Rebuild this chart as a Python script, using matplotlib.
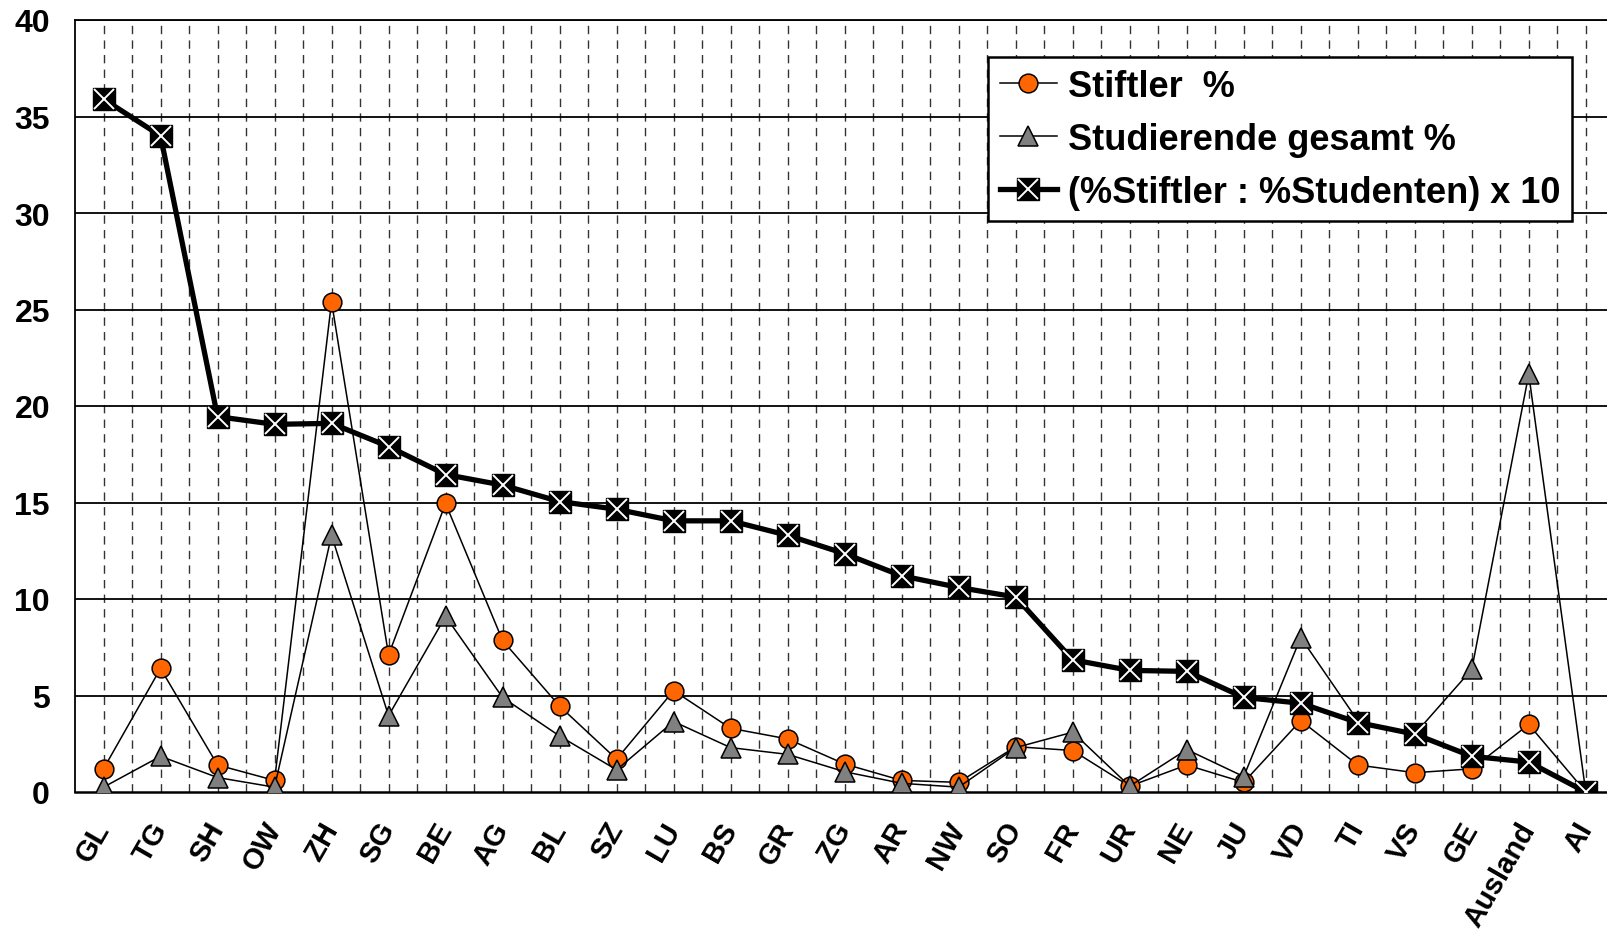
import matplotlib
matplotlib.use("Agg")
import matplotlib.pyplot as plt

plt.rcParams['font.family'] = ['Liberation Sans', 'DejaVu Sans']
plt.rcParams['lines.scale_dashes'] = False

kantone = ["GL", "TG", "SH", "OW", "ZH", "SG", "BE", "AG", "BL", "SZ", "LU", "BS", "GR", "ZG",
           "AR", "NW", "SO", "FR", "UR", "NE", "JU", "VD", "TI", "VS", "GE", "Ausland", "AI"]

stiftler = [1.2, 6.4, 1.4, 0.6, 25.4, 7.1, 14.95, 7.85, 4.45, 1.7, 5.25, 3.3, 2.75, 1.45,
            0.6, 0.5, 2.35, 2.15, 0.3, 1.4, 0.5, 3.7, 1.4, 1.0, 1.2, 3.5, 0.0]
studierende = [0.25, 1.85, 0.75, 0.25, 13.3, 3.95, 9.1, 4.9, 2.9, 1.15, 3.65, 2.3, 1.95, 1.05,
               0.45, 0.25, 2.3, 3.1, 0.3, 2.2, 0.8, 8.0, 3.7, 3.0, 6.35, 21.65, 0.0]
verhaeltnis = [35.9, 34.0, 19.45, 19.05, 19.1, 17.9, 16.45, 15.9, 15.05, 14.65, 14.05, 14.05,
               13.3, 12.35, 11.2, 10.6, 10.1, 6.85, 6.3, 6.25, 4.9, 4.6, 3.6, 3.0, 1.85, 1.55, 0.0]

x = list(range(len(kantone)))

fig = plt.figure(figsize=(16.08, 9.37), dpi=100)
ax = fig.add_axes([75 / 1608, 1 - 793 / 937, 1533 / 1608, 772 / 937])

# gitter
for i in range(1, 2 * len(kantone) + 1):
    ax.axvline(-0.5 + i * 0.5, color="#333333", lw=1.0, linestyle=(0, (6, 4.5)), zorder=1)
for yv in range(5, 45, 5):
    ax.axhline(yv, color="black", lw=1.3, zorder=1.5)

h_st, = ax.plot(x, stiftler, color="black", lw=1.1, marker="o", markersize=13.5,
                markerfacecolor="#FF6600", markeredgecolor="black", markeredgewidth=1.1, zorder=3)
h_su, = ax.plot(x, studierende, color="black", lw=1.1, marker="^", markersize=15,
                markerfacecolor="#808080", markeredgecolor="black", markeredgewidth=1.1, zorder=4)
l_sq, = ax.plot(x, verhaeltnis, color="black", lw=3.8, marker="s", markersize=16,
                markerfacecolor="black", markeredgecolor="black", zorder=5)
l_x, = ax.plot(x, verhaeltnis, linestyle="none", marker="x", markersize=14.5,
               markeredgecolor="white", markeredgewidth=1.4, zorder=6)

ax.set_xlim(-0.5, 26.39)
ax.set_ylim(0, 40)
ax.set_yticks(range(0, 45, 5))
ax.set_xticks(x)
ax.set_xticklabels(kantone, rotation=60, ha="right", va="center", rotation_mode="anchor",
                   fontsize=21, fontweight="bold")
for lab in ax.get_yticklabels():
    lab.set_fontsize(23)
    lab.set_fontweight("bold")
ax.tick_params(axis="y", length=0, pad=18)
ax.tick_params(axis="x", length=0, pad=23)

ax.spines["right"].set_visible(False)
ax.spines["top"].set_linewidth(1.3)
ax.spines["left"].set_linewidth(1.3)
ax.spines["bottom"].set_linewidth(1.8)
for s in ax.spines.values():
    s.set_zorder(2)

leg = ax.legend([h_st, h_su, (l_sq, l_x)],
                ["Stiftler  %", "Studierende gesamt %", "(%Stiftler : %Studenten) x 10"],
                loc="upper left", bbox_to_anchor=(988 / 1608, 1 - 58 / 937),
                bbox_transform=fig.transFigure, borderaxespad=0,
                prop={"size": 26, "weight": "bold"}, fancybox=False, framealpha=1,
                edgecolor="black", handlelength=1.6, handletextpad=0.3,
                borderpad=0.32, labelspacing=0.5, numpoints=1)
leg.get_frame().set_linewidth(1.8)
leg.set_zorder(10)

fig.savefig("out.png", dpi=100)
